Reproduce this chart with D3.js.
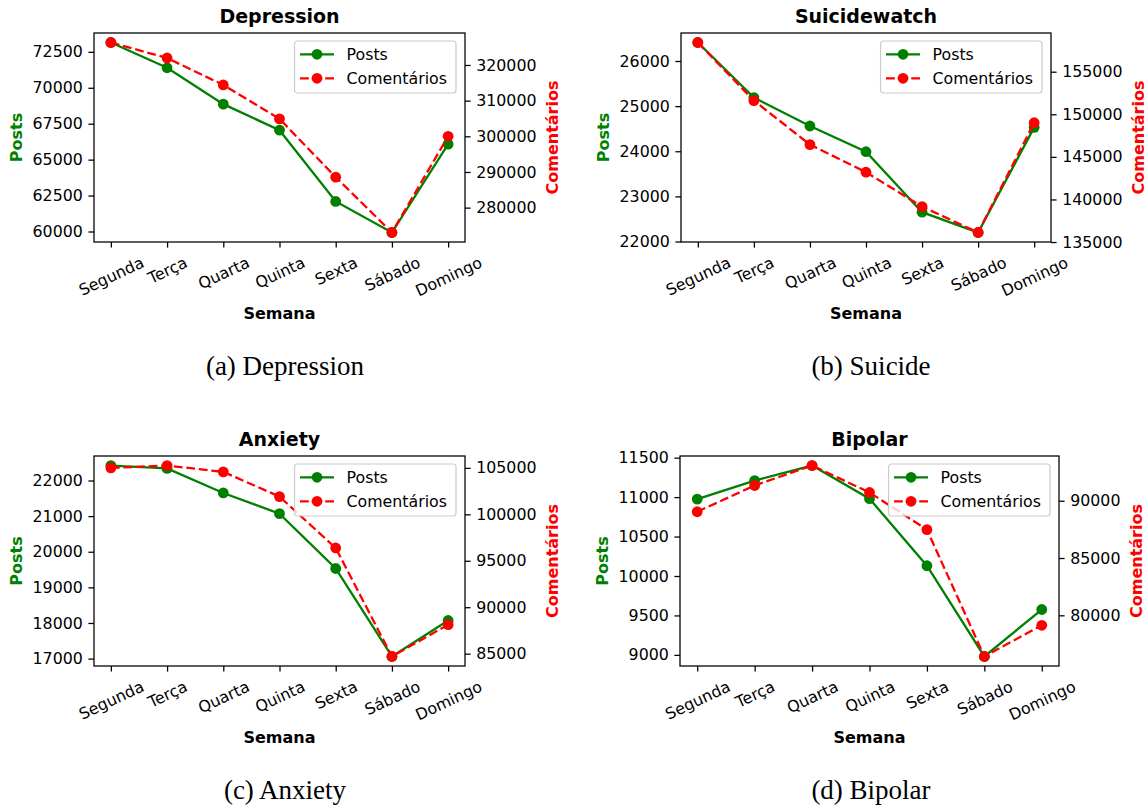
<!DOCTYPE html>
<html>
<head>
<meta charset="utf-8">
<script src="https://cdn.jsdelivr.net/npm/d3@7"></script>
<style>
  body { margin: 0; background: #fff; }
  svg { display: block; }
  text { font-family: "DejaVu Sans", sans-serif; fill: #000; }
</style>
</head>
<body>
<svg id="fig" width="1147" height="805"></svg>
<script>
// dias da semana (eixo x)
const dias = ["Segunda", "Terça", "Quarta", "Quinta", "Sexta", "Sábado", "Domingo"];

// valores
const depressionPosts = [73150, 71390, 68860, 67050, 62090, 59930, 66080];
const depressionComentarios = [326300, 321950, 314400, 304900, 288550, 273030, 300000];
const suicidePosts = [26410, 25190, 24560, 23990, 22650, 22200, 24530];
const suicideComentarios = [158430, 151610, 146440, 143200, 139160, 136120, 149010];
const anxietyPosts = [22420, 22340, 21650, 21070, 19530, 17060, 18070];
const anxietyComentarios = [105000, 105250, 104570, 101910, 96380, 84700, 88120];
const bipolarPosts = [10975, 11210, 11400, 10980, 10130, 8980, 9575];
const bipolarComentarios = [89040, 91330, 93070, 90720, 87480, 76410, 79130];

// ticks de cada eixo
const depressionPostTicks = [60000, 62500, 65000, 67500, 70000, 72500];
const depressionComTicks = [280000, 290000, 300000, 310000, 320000];
const suicidePostTicks = [22000, 23000, 24000, 25000, 26000];
const suicideComTicks = [135000, 140000, 145000, 150000, 155000];
const anxietyPostTicks = [17000, 18000, 19000, 20000, 21000, 22000];
const anxietyComTicks = [85000, 90000, 95000, 100000, 105000];
const bipolarPostTicks = [9000, 9500, 10000, 10500, 11000, 11500];
const bipolarComTicks = [80000, 85000, 90000];

const panels = [
  { title: "Depression", caption: "(a) Depression", posts: depressionPosts, coms: depressionComentarios,
    postTicks: depressionPostTicks, comTicks: depressionComTicks, x0: 94, x1: 465, y0: 33, y1: 242, cx: 285 },
  { title: "Suicidewatch", caption: "(b) Suicide", posts: suicidePosts, coms: suicideComentarios,
    postTicks: suicidePostTicks, comTicks: suicideComTicks, x0: 681, x1: 1051, y0: 33, y1: 242, cx: 871 },
  { title: "Anxiety", caption: "(c) Anxiety", posts: anxietyPosts, coms: anxietyComentarios,
    postTicks: anxietyPostTicks, comTicks: anxietyComTicks, x0: 94, x1: 465, y0: 456, y1: 666, cx: 285 },
  { title: "Bipolar", caption: "(d) Bipolar", posts: bipolarPosts, coms: bipolarComentarios,
    postTicks: bipolarPostTicks, comTicks: bipolarComTicks, x0: 680, x1: 1059, y0: 456, y1: 666, cx: 871 },
];

const GREEN = "#008000", RED = "#ff0000";
const fs = 15.8;          // tamanho da fonte dos ticks
const tickLen = 5.6, tickPad = 5.6;
const ascent = 0.928 * 16, descent = 0.236 * 16;
const rot = 25;           // rotação dos rótulos do eixo x

const svg = d3.select("#fig");

// margem de 5% como o matplotlib
function padded(vals) {
  const [a, b] = d3.extent(vals);
  const m = (b - a) * 0.05;
  return [a - m, b + m];
}

function styleAxis(sel) {
  sel.select(".domain").remove();
  sel.selectAll(".tick line").attr("stroke", "#000").attr("stroke-width", 1.27);
  sel.selectAll(".tick text").style("font-size", fs + "px").attr("fill", "#000");
}

panels.forEach(drawPanel);

function drawPanel(p) {
  const g = svg.append("g");

  const x = d3.scalePoint().domain(dias).range([p.x0, p.x1]).padding(0.3);
  const yL = d3.scaleLinear().domain(padded(p.posts)).range([p.y1, p.y0]);
  const yR = d3.scaleLinear().domain(padded(p.coms)).range([p.y1, p.y0]);

  // eixo esquerdo (Posts)
  const axL = g.append("g")
    .attr("transform", `translate(${p.x0},0)`)
    .call(d3.axisLeft(yL).tickValues(p.postTicks).tickSize(tickLen).tickPadding(tickPad).tickFormat(d3.format("d")));
  styleAxis(axL);

  // eixo direito (Comentários)
  const axR = g.append("g")
    .attr("transform", `translate(${p.x1},0)`)
    .call(d3.axisRight(yR).tickValues(p.comTicks).tickSize(tickLen).tickPadding(tickPad).tickFormat(d3.format("d")));
  styleAxis(axR);

  // eixo x
  const axX = g.append("g")
    .attr("transform", `translate(0,${p.y1})`)
    .call(d3.axisBottom(x).tickSize(tickLen).tickPadding(tickPad));
  styleAxis(axX);
  const th = 1.164 * fs;
  const r = rot * Math.PI / 180;
  axX.selectAll(".tick text").each(function () {
    const t = d3.select(this);
    t.attr("y", null).attr("dy", null).attr("text-anchor", "middle").attr("dominant-baseline", "central");
    const w = this.getComputedTextLength();
    const H = w * Math.sin(r) + th * Math.cos(r);
    const cy = tickLen + tickPad + H / 2;
    t.attr("y", cy).attr("transform", `rotate(${-rot},0,${cy})`);
  });

  // largura máxima dos rótulos para posicionar os títulos dos eixos
  let wL = 0, wR = 0;
  axL.selectAll(".tick text").each(function () { wL = Math.max(wL, this.getComputedTextLength()); });
  axR.selectAll(".tick text").each(function () { wR = Math.max(wR, this.getComputedTextLength()); });

  const cyAx = (p.y0 + p.y1) / 2;
  const lx = p.x0 - tickLen - tickPad - wL - 6.4 - descent;
  g.append("text")
    .attr("transform", `translate(${lx},${cyAx}) rotate(-90)`)
    .attr("text-anchor", "middle")
    .style("font-size", "16px").style("font-weight", "bold")
    .attr("fill", GREEN).style("fill", GREEN)
    .text("Posts");

  const rx = p.x1 + tickLen + tickPad + wR + 6.4 + ascent;
  g.append("text")
    .attr("transform", `translate(${rx},${cyAx}) rotate(-90)`)
    .attr("text-anchor", "middle")
    .style("font-size", "16px").style("font-weight", "bold")
    .style("fill", RED)
    .text("Comentários");

  // linhas
  const lineL = d3.line().x((d, i) => x(dias[i])).y(d => yL(d));
  const lineR = d3.line().x((d, i) => x(dias[i])).y(d => yR(d));

  g.append("path").datum(p.posts)
    .attr("d", lineL).attr("fill", "none").attr("stroke", GREEN).attr("stroke-width", 2.3);
  g.selectAll(".mp").data(p.posts).join("circle")
    .attr("cx", (d, i) => x(dias[i])).attr("cy", d => yL(d)).attr("r", 5.4).attr("fill", GREEN);

  g.append("path").datum(p.coms)
    .attr("d", lineR).attr("fill", "none").attr("stroke", RED).attr("stroke-width", 2.3)
    .attr("stroke-dasharray", "8.8,3.8");
  g.selectAll(".mc").data(p.coms).join("circle")
    .attr("cx", (d, i) => x(dias[i])).attr("cy", d => yR(d)).attr("r", 5.4).attr("fill", RED);

  // moldura
  g.append("rect")
    .attr("x", p.x0).attr("y", p.y0).attr("width", p.x1 - p.x0).attr("height", p.y1 - p.y0)
    .attr("fill", "none").attr("stroke", "#000").attr("stroke-width", 1.27);

  // legenda
  const lg = g.append("g");
  const items = [
    { label: "Posts", color: GREEN, dash: null },
    { label: "Comentários", color: RED, dash: "8.8,3.8" },
  ];
  const box = lg.append("rect").attr("rx", 3).attr("ry", 3)
    .attr("fill", "#fff").attr("fill-opacity", 0.8)
    .attr("stroke", "#cccccc").attr("stroke-width", 1.2);
  let tw = 0;
  const rows = lg.selectAll(".row").data(items).join("g")
    .attr("transform", (d, i) => `translate(0,${13.3 + i * 24})`);
  rows.append("line").attr("x1", 5.5).attr("x2", 39.5).attr("y1", 0).attr("y2", 0)
    .attr("stroke", d => d.color).attr("stroke-width", 2.3)
    .attr("stroke-dasharray", d => d.dash);
  rows.append("circle").attr("cx", 22.5).attr("cy", 0).attr("r", 5.4).attr("fill", d => d.color);
  rows.append("text").attr("x", 52).attr("dy", "0.36em")
    .style("font-size", fs + "px").text(d => d.label)
    .each(function () { tw = Math.max(tw, this.getComputedTextLength()); });
  const bw = 52 + tw + 9, bh = 52;
  box.attr("width", bw).attr("height", bh);
  lg.attr("transform", `translate(${p.x1 - 9 - bw},${p.y0 + 8})`);

  // título, rótulo x e legenda da figura
  g.append("text")
    .attr("x", (p.x0 + p.x1) / 2).attr("y", p.y0 - 10)
    .attr("text-anchor", "middle")
    .style("font-size", "19px").style("font-weight", "bold")
    .text(p.title);

  g.append("text")
    .attr("x", (p.x0 + p.x1) / 2).attr("y", p.y1 + 77)
    .attr("text-anchor", "middle")
    .style("font-size", "16px").style("font-weight", "bold")
    .text("Semana");

  g.append("text")
    .attr("x", p.cx).attr("y", p.y1 + 133)
    .attr("text-anchor", "middle")
    .style("font-family", "'Liberation Serif', serif").style("font-size", "27px")
    .text(p.caption);
}
</script>
</body>
</html>
